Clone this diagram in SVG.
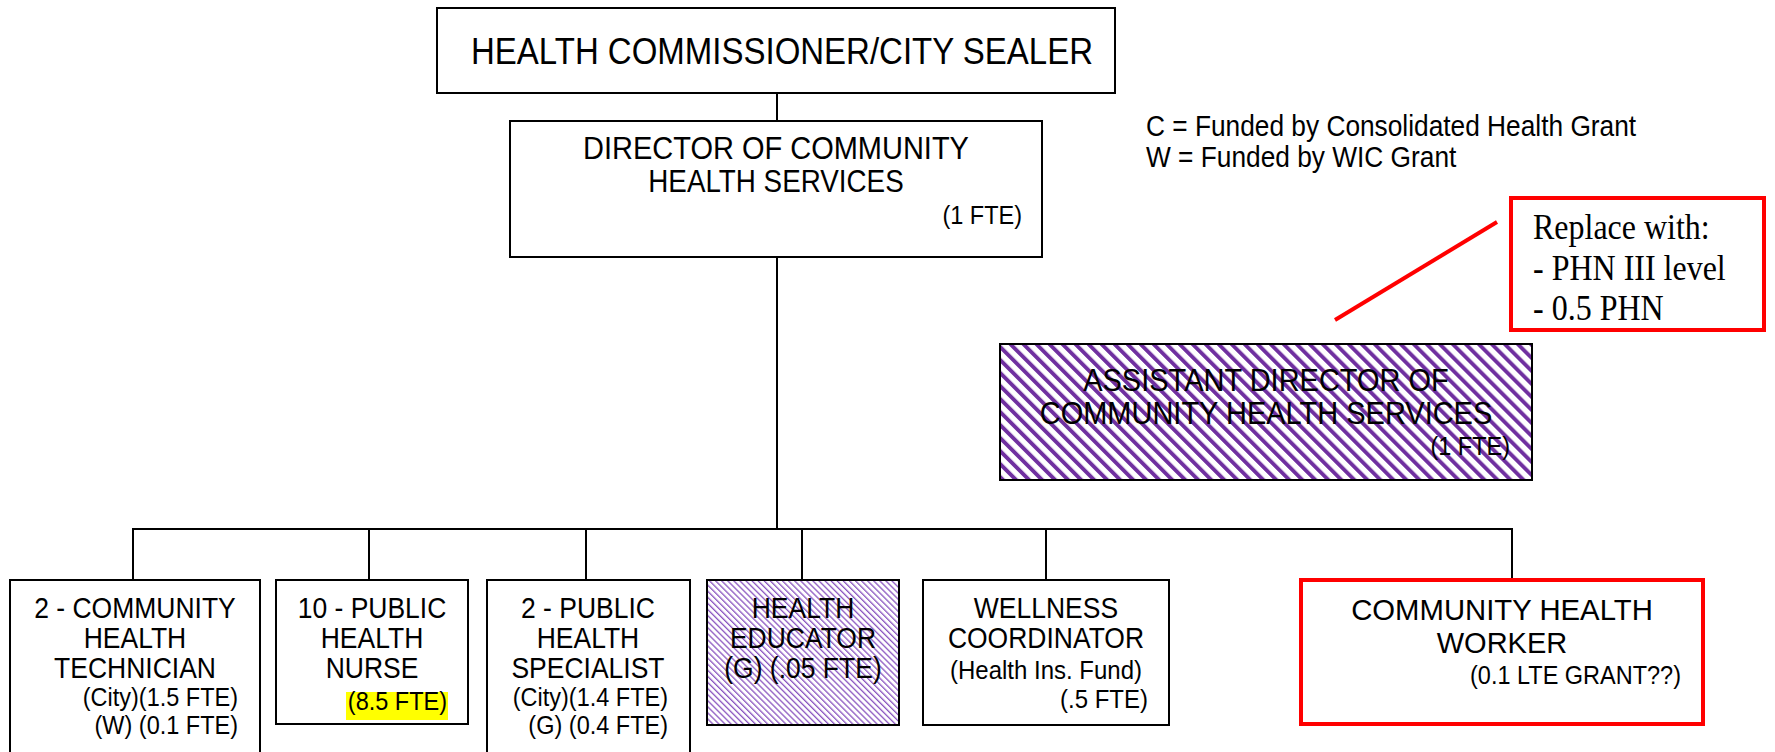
<svg xmlns="http://www.w3.org/2000/svg" width="1775" height="752" viewBox="0 0 1775 752">
<style>
.box{fill:#fff;stroke:#000;stroke-width:2}
.red{fill:#fff;stroke:#ff0000;stroke-width:4}
text{transform-box:fill-box;transform-origin:center;transform:scaleY(1.1)}
.t{font-family:"Liberation Sans",Arial,sans-serif;fill:#000}
.m{font-size:26.5px;text-anchor:middle}
.s{font-size:23.5px;text-anchor:end}
.ns{transform:none}
.ser{font-family:"Liberation Serif","Times New Roman",serif;font-size:32px;fill:#000}
.ln{stroke:#000;stroke-width:2;fill:none}
</style>
<defs>
<pattern id="wide" patternUnits="userSpaceOnUse" width="9.2" height="9.2" patternTransform="rotate(-45)">
<rect width="9.2" height="9.2" fill="#fff"/>
<rect x="0" y="0" width="3.9" height="9.2" fill="#7030A0"/>
</pattern>
<pattern id="fine" patternUnits="userSpaceOnUse" width="4.3" height="4.3" patternTransform="rotate(-45)">
<rect width="4.3" height="4.3" fill="#fff"/>
<rect x="0" y="0" width="1.3" height="4.3" fill="#8a55c0"/>
</pattern>
</defs>
<rect width="1775" height="752" fill="#fff"/>

<g id="connectors">
<line class="ln" x1="777" y1="93" x2="777" y2="121"/>
<line class="ln" x1="777" y1="257" x2="777" y2="529"/>
<line class="ln" x1="133" y1="529" x2="1512" y2="529"/>
<line class="ln" x1="133" y1="528" x2="133" y2="580"/>
<line class="ln" x1="369" y1="529" x2="369" y2="580"/>
<line class="ln" x1="586" y1="529" x2="586" y2="580"/>
<line class="ln" x1="802" y1="529" x2="802" y2="580"/>
<line class="ln" x1="1046" y1="529" x2="1046" y2="580"/>
<line class="ln" x1="1512" y1="528" x2="1512" y2="580"/>
</g>

<g id="annotation-line">
<line x1="1335" y1="320" x2="1497" y2="222" stroke="#ff0000" stroke-width="4"/>
</g>

<g id="health-commissioner">
<rect class="box" x="437" y="8" width="678" height="85"/>
<text class="t" x="782" y="63" font-size="33" text-anchor="middle">HEALTH COMMISSIONER/CITY SEALER</text>
</g>

<g id="director">
<rect class="box" x="510" y="121" width="532" height="136"/>
<text class="t" x="776" y="158" font-size="29" text-anchor="middle">DIRECTOR OF COMMUNITY</text>
<text class="t" x="776" y="191" font-size="27.8" text-anchor="middle">HEALTH SERVICES</text>
<text class="t s" x="1022" y="223">(1 FTE)</text>
</g>

<g id="legend">
<text class="t" x="1146" y="135" font-size="26.3">C = Funded by Consolidated Health Grant</text>
<text class="t" x="1146" y="166" font-size="26.3">W = Funded by WIC Grant</text>
</g>

<g id="replace-note">
<rect class="red" x="1511" y="198" width="253" height="132"/>
<text class="ser" x="1533" y="238">Replace with:</text>
<text class="ser" x="1533" y="279">- PHN III level</text>
<text class="ser" x="1533" y="319">- 0.5 PHN</text>
</g>

<g id="assistant-director">
<rect x="1000" y="344" width="532" height="136" fill="url(#wide)" stroke="#000" stroke-width="2"/>
<text class="t" x="1266" y="390" font-size="29" text-anchor="middle">ASSISTANT DIRECTOR OF</text>
<text class="t" x="1266" y="423" font-size="29" text-anchor="middle">COMMUNITY HEALTH SERVICES</text>
<text class="t s" x="1510" y="454">(1 FTE)</text>
</g>

<g id="chw-technician">
<rect class="box" x="10" y="580" width="250" height="185"/>
<text class="t m" x="135" y="617">2 - COMMUNITY</text>
<text class="t m" x="135" y="647">HEALTH</text>
<text class="t m" x="135" y="677">TECHNICIAN</text>
<text class="t s" x="238" y="705">(City)(1.5 FTE)</text>
<text class="t s" x="238" y="733">(W) (0.1 FTE)</text>
</g>

<g id="public-health-nurse">
<rect class="box" x="276" y="580" width="192" height="144"/>
<text class="t m" x="372" y="617">10 - PUBLIC</text>
<text class="t m" x="372" y="647">HEALTH</text>
<text class="t m" x="372" y="677">NURSE</text>
<rect x="346" y="692" width="102" height="28" fill="#ffff00"/>
<text class="t s" x="447" y="709">(8.5 FTE)</text>
</g>

<g id="public-health-specialist">
<rect class="box" x="487" y="580" width="203" height="185"/>
<text class="t m" x="588" y="617">2 - PUBLIC</text>
<text class="t m" x="588" y="647">HEALTH</text>
<text class="t m" x="588" y="677">SPECIALIST</text>
<text class="t s" x="668" y="705">(City)(1.4 FTE)</text>
<text class="t s" x="668" y="733">(G) (0.4 FTE)</text>
</g>

<g id="health-educator">
<rect x="707" y="580" width="192" height="145" fill="url(#fine)" stroke="#000" stroke-width="2"/>
<text class="t m" x="803" y="617">HEALTH</text>
<text class="t m" x="803" y="647">EDUCATOR</text>
<text class="t m" x="803" y="677">(G) (.05 FTE)</text>
</g>

<g id="wellness-coordinator">
<rect class="box" x="923" y="580" width="246" height="145"/>
<text class="t m" x="1046" y="617">WELLNESS</text>
<text class="t m" x="1046" y="647">COORDINATOR</text>
<text class="t" x="1046" y="678" font-size="24" text-anchor="middle">(Health Ins. Fund)</text>
<text class="t" x="1148" y="707" font-size="24" text-anchor="end">(.5 FTE)</text>
</g>

<g id="community-health-worker">
<rect class="red" x="1301" y="580" width="402" height="144"/>
<text class="t ns" x="1502" y="620" font-size="29.3" text-anchor="middle">COMMUNITY HEALTH</text>
<text class="t ns" x="1502" y="653" font-size="29" text-anchor="middle">WORKER</text>
<text class="t s" x="1681" y="683">(0.1 LTE GRANT??)</text>
</g>
</svg>
